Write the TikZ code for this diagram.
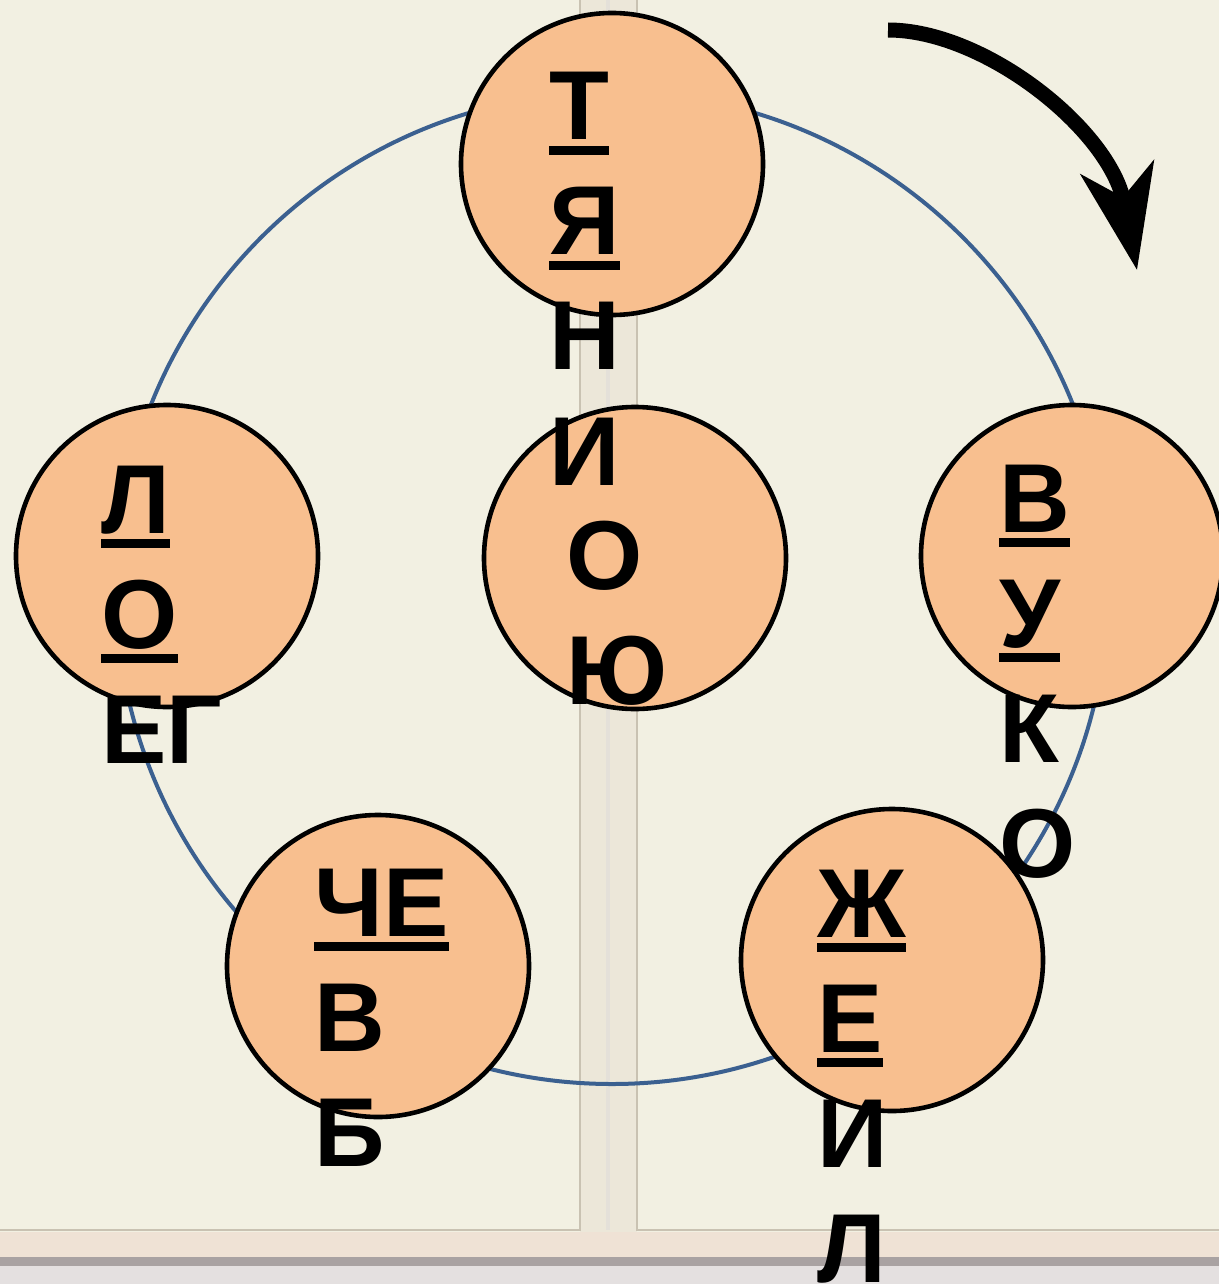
\documentclass[tikz,border=0pt]{standalone}
\usepackage{fontspec}
\setmainfont{Liberation Sans}
\usepackage[HTML]{xcolor}
\usepackage{tikz}
\usetikzlibrary{positioning, arrows.meta}

\definecolor{paper}{HTML}{F2F0E2}
\definecolor{spine}{HTML}{ECE7D9}
\definecolor{fold}{HTML}{C9C2B2}
\definecolor{pageedge}{HTML}{EFE2D5}
\definecolor{edgeshade}{HTML}{A9A2A2}
\definecolor{table}{HTML}{E4E0E0}
\definecolor{peach}{HTML}{F8BF8F}
\definecolor{ringblue}{HTML}{3B6090}

\newcommand{\undr}[1]{\setbox0\hbox{#1}\rlap{\rule[-7.5pt]{\wd0}{4.5pt}}\box0}

\begin{document}
\begin{tikzpicture}[x=0.5pt, y=-0.5pt,
  disc/.style={circle, draw=black, line width=2.3pt, fill=peach, minimum size=151pt, inner sep=0pt},
  letters/.style={anchor=base west, inner sep=0pt, font=\fontsize{49}{57.5}\selectfont\bfseries},
  ring/.style={draw=ringblue, line width=2pt}]
\useasboundingbox (0,0) rectangle (1219,1284);
\clip (0,0) rectangle (1219,1284);

% the open book behind
\fill[paper] (0,0) rectangle (1219,1284);
\fill[spine] (580,0) rectangle (637,1262);
\draw[fold, line width=1pt] (580,0) -- (580,1230) -- (0,1230);
\draw[fold, line width=1pt] (637,0) -- (637,1230) -- (1219,1230);
\draw[fold!50, line width=2pt] (608,0) -- (608,1230);
\fill[pageedge] (0,1232) rectangle (1219,1257);
\fill[edgeshade] (0,1257) rectangle (1219,1266);
\fill[table] (0,1266) rectangle (1219,1284);

\coordinate (ringc) at (612,588);
\draw[ring] (ringc) circle[radius=248pt];

\node[disc] (Top)  at (612,164) {};
\node[disc] (Mid)  at (635,558) {};
\node[disc] (Lft)  at (167,556) {};
\node[disc] (Rgt)  at (1072,556) {};
\node[disc] (BotL) at (378,966) {};
\node[disc] (BotR) at (892,960) {};

\node[letters] (tTop)  at (549,140) {\vtop{\hbox{\undr{Т}}\hbox{\undr{Я}}\hbox{Н}\hbox{И}}};
\node[letters] (tMid)  at (566,589) {\vtop{\hbox{О}\hbox{Ю}}};
\node[letters] (tLft)  at (101,533) {\vtop{\hbox{\undr{Л}}\hbox{\undr{О}}\hbox{ЕГ}}};
\node[letters] (tRgt)  at (999,532) {\vtop{\hbox{\undr{В}}\hbox{\undr{У}}\hbox{К}\hbox{О}}};
\node[letters] (tBotL) at (314,936) {\vtop{\hbox{\undr{ЧЕ}}\hbox{В}\hbox{Б}}};
\node[letters] (tBotR) at (817,937) {\vtop{\hbox{\undr{Ж}}\hbox{\undr{Е}}\hbox{И}\hbox{Л}}};

% turning direction
\coordinate (turnA) at (888,30);
\coordinate (turnB) at (1137,270);
\draw[line width=7.5pt, -{Stealth[length=52pt, width=37pt, inset=15pt]}]
  (turnA) .. controls (985,30) and (1110,130) .. (turnB);
\end{tikzpicture}
\end{document}
